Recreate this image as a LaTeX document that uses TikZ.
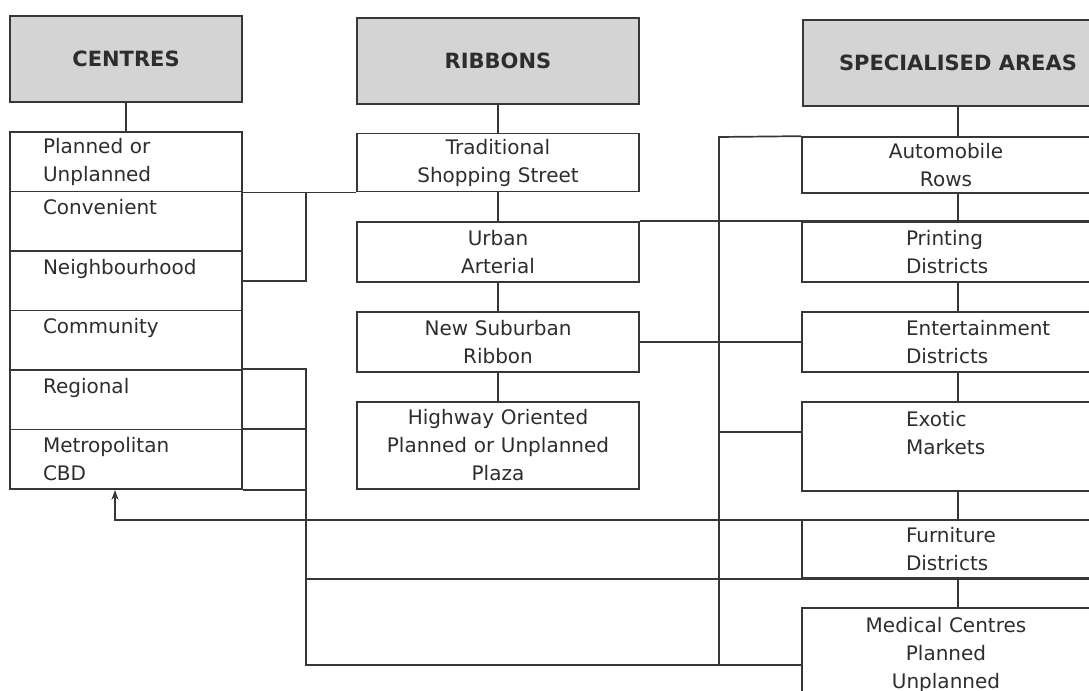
\documentclass[tikz,border=0pt]{standalone}
\usepackage{fontspec}
\setmainfont{DejaVu Sans}
\usepackage{xcolor}
\definecolor{LineGray} {RGB}{55, 55, 55}
\definecolor{HeadGray} {RGB}{212,212,212}
\definecolor{TextGray} {RGB}{45, 45, 45}
\usepackage{tikz}
\usetikzlibrary{
  arrows.meta
}

\begin{document}
\begin{tikzpicture}[
  x=0.5pt, y=-0.5pt,
  color=LineGray,
  line width=0.85pt,
  font=\fontsize{10}{14}\selectfont,
  head/.style={
    draw, fill=HeadGray,
    text=TextGray,
    minimum height=43pt,
    inner sep=0pt,
    font=\fontsize{10.5}{13}\selectfont\bfseries
  },
  cbox/.style={
    draw, text=TextGray,
    text width=83pt,
    inner xsep=16.5pt, inner ysep=2pt,
    minimum height=29.75pt,
    align=left
  },
  rbox/.style={
    draw, text=TextGray,
    text width=133pt,
    inner xsep=4pt, inner ysep=2pt,
    align=center
  },
  sbox/.style={
    draw, text=TextGray,
    text width=80pt,
    inner xsep=52pt, inner ysep=2pt,
    align=left
  },
  smid/.style={
    draw, text=TextGray,
    text width=84pt,
    inner xsep=30pt, inner ysep=2pt,
    align=center
  },
  arrow/.style={
    -{Stealth[length=5pt, width=3.5pt]}}
]

\useasboundingbox (0,0) rectangle (1089,691);
\clip (0,0) rectangle (1089,691);

\node[head, minimum width=116pt]
  (centres) at (126,59) {CENTRES};
\node[head, minimum width=141pt]
  (ribbons) at (498,61) {RIBBONS};
\node[head, minimum width=155pt]
  (special) at (958,63) {SPECIALISED AREAS};

\node[cbox] (planned) at (126,161.75)
  {Planned or\\Unplanned};
\node[cbox] (conv) at (126,221.25)
  {Convenient\\\mbox{}};
\node[cbox] (neigh) at (126,280.75)
  {Neighbourhood\\\mbox{}};
\node[cbox] (commun) at (126,340.25)
  {Community\\\mbox{}};
\node[cbox] (region) at (126,399.75)
  {Regional\\\mbox{}};
\node[cbox] (metro) at (126,459.25)
  {Metropolitan\\CBD};

\node[rbox, minimum height=29pt]
  (street) at (498,162.5)
  {Traditional\\Shopping Street};
\node[rbox, minimum height=30pt]
  (arterial) at (498,252)
  {Urban\\Arterial};
\node[rbox, minimum height=30pt]
  (suburban) at (498,342)
  {New Suburban\\Ribbon};
\node[rbox, minimum height=43.5pt]
  (highway) at (498,445.5)
  {Highway Oriented\\Planned or Unplanned\\Plaza};

\node[smid, minimum height=28pt]
  (auto) at (946,165)
  {Automobile\\Rows};
\node[sbox, minimum height=30pt]
  (printing) at (986,252)
  {Printing\\Districts};
\node[sbox, minimum height=30pt]
  (entertain) at (986,342)
  {Entertainment\\Districts};
\node[sbox, minimum height=44.5pt]
  (exotic) at (986,446.5)
  {Exotic\\Markets\\\mbox{}};
\node[sbox, minimum height=29pt]
  (furniture) at (986,549)
  {Furniture\\Districts};
\node[smid, minimum height=47pt]
  (medical) at (946,655)
  {Medical Centres\\Planned\\Unplanned};

\coordinate (spine) at (306,665);
\coordinate (bus)   at (719,137);
\coordinate (tap)   at (115,520);
\coordinate (exo)   at (719,432);

\draw (centres) -- (planned);
\draw (ribbons) -- (street);
\draw (street) -- (arterial);
\draw (arterial) -- (suburban);
\draw (suburban) -- (highway);
\draw (special) -- (special |- auto.north);
\draw (auto.south -| special) -- (printing.north -| special);
\draw (printing.south -| special) -- (entertain.north -| special);
\draw (entertain.south -| special) -- (exotic.north -| special);
\draw (exotic.south -| special) -- (furniture.north -| special);
\draw (furniture.south -| special) -- (medical.north -| special);

\draw (planned.south east) -- (planned.south east -| street.west);
\draw (neigh.east) -| (planned.south east -| spine);
\draw (region.north east) -- (region.north east -| spine)
  -- (spine) -- (spine -| medical.west);
\draw (metro.north east) -- (metro.north east -| spine);
\draw (metro.south east) -- (metro.south east -| spine);
\draw[arrow] (tap -| furniture.east) -- (tap) -- (tap |- metro.south);
\draw (spine |- furniture.south) -- (furniture.south east);

\draw (auto.north west) -- (bus) -- (bus |- spine);
\draw (exo) -- (exo -| exotic.west);
\draw (arterial.north east) -- (printing.north east);
\draw (suburban) -- (entertain);

\end{tikzpicture}
\end{document}
